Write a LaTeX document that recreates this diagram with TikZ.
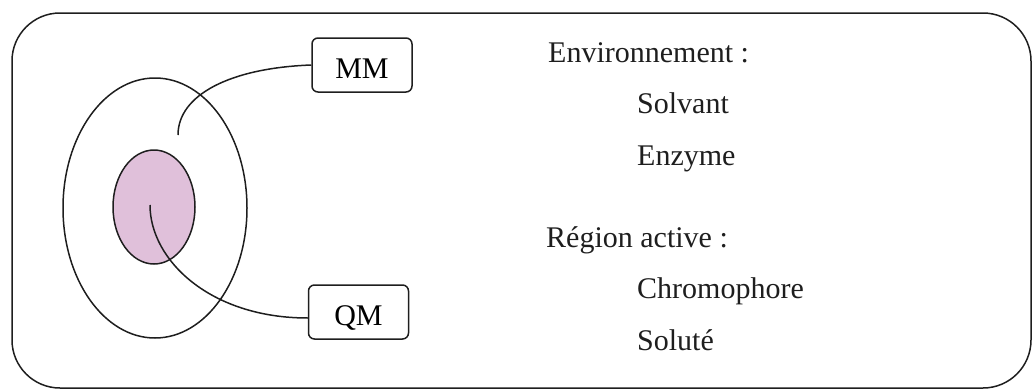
\documentclass[tikz,border=0pt]{standalone}
\usepackage{fontspec}
\setmainfont{Liberation Serif}
\definecolor{pinkfill}{RGB}{224,192,218}
\definecolor{inkc}{RGB}{30,30,30}
\tikzset{
  frame/.style={draw=inkc, line width=1.5pt, rounded corners=48pt},
  ring/.style={draw=inkc, line width=1.5pt},
  tagbox/.style={draw=inkc, line width=1.5pt, rounded corners=6pt, minimum width=100pt, minimum height=54pt, inner sep=0pt, text height=27pt, text depth=1pt, font=\fontsize{30}{35}\selectfont},
  conn/.style={draw=inkc, line width=1.5pt},
  lbl/.style={anchor=base west, inner sep=0pt, text=inkc, font=\fontsize{30}{35}\selectfont}
}
\begin{document}
\begin{tikzpicture}[x=1pt,y=-1pt]
\useasboundingbox (0,0) rectangle (1034,391);
\draw[frame] (12,13) rectangle (1031,388);
\draw[ring] (155,208) ellipse [x radius=92, y radius=130];
\draw[ring, fill=pinkfill] (154,207) ellipse [x radius=41, y radius=57];
\node[tagbox] (mm) at (362,65) {MM};
\node[tagbox] (qm) at (358.5,312) {QM};
\coordinate (mmend) at (178,135);
\coordinate (qmstart) at (150,205);
\draw[conn] (mm.west) .. controls (230,68) and (178,95) .. (mmend);
\draw[conn] (qmstart) .. controls (150,260) and (210,318) .. ([yshift=-6pt]qm.west);
\node[lbl] (env) at (548,62) {Environnement :};
\node[lbl] (solv) at (637,113) {Solvant};
\node[lbl] (enz) at (637,165) {Enzyme};
\node[lbl] (reg) at (546,247) {Région active :};
\node[lbl] (chrom) at (637,298) {Chromophore};
\node[lbl] (solu) at (637,350) {Soluté};
\end{tikzpicture}
\end{document}
